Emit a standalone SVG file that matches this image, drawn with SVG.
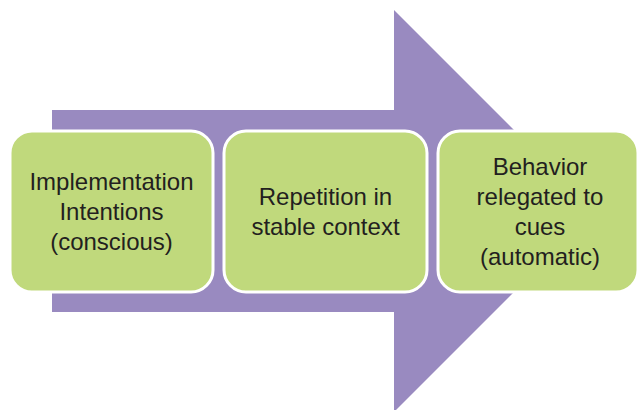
<svg xmlns="http://www.w3.org/2000/svg" width="638" height="410" viewBox="0 0 638 410">
<style>
.box{fill:#c0d97c;stroke:#ffffff;stroke-width:3}
.t{font-family:"Liberation Sans",Arial,sans-serif;font-size:24px;fill:#231f20;text-anchor:middle}
</style>
<rect width="638" height="410" fill="#ffffff"/>
<g id="connectors">
<polygon points="52,110 394,110 394,10 595,211 394,412 394,312 52,312" fill="#998ac0"/>
</g>
<g id="node1">
<rect class="box" x="10" y="131" width="203" height="161" rx="22"/>
<text class="t" x="111.5" y="190">Implementation</text>
<text class="t" x="111.5" y="220">Intentions</text>
<text class="t" x="111.5" y="250">(conscious)</text>
</g>
<g id="node2">
<rect class="box" x="224" y="131" width="203" height="161" rx="22"/>
<text class="t" x="325.5" y="205">Repetition in</text>
<text class="t" x="325.5" y="235">stable context</text>
</g>
<g id="node3">
<rect class="box" x="438" y="131" width="200" height="161" rx="22"/>
<text class="t" x="540" y="175">Behavior</text>
<text class="t" x="540" y="205">relegated to</text>
<text class="t" x="540" y="235">cues</text>
<text class="t" x="540" y="265">(automatic)</text>
</g>
</svg>
